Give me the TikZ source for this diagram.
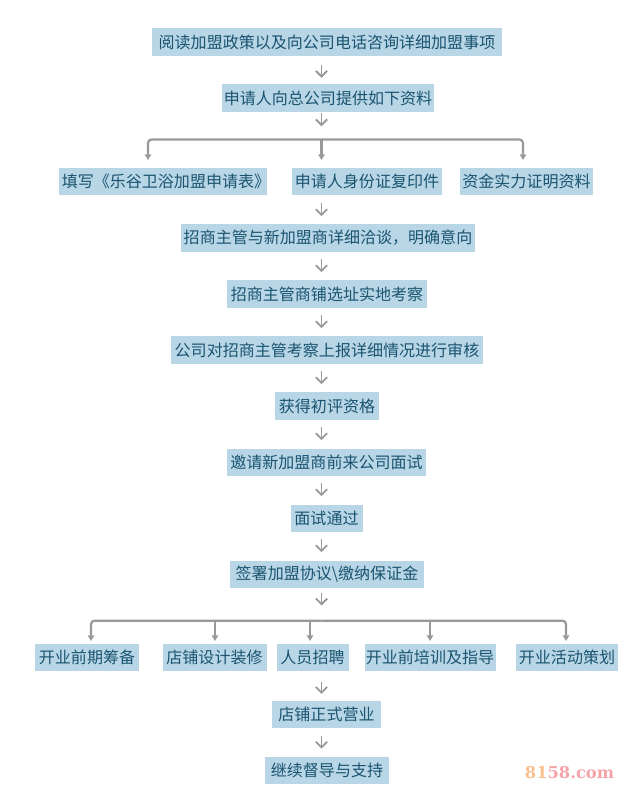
\documentclass[tikz,border=0pt]{standalone}
\usepackage{fontspec}
\usetikzlibrary{arrows.meta}
\newfontfamily\cjk{Noto Sans CJK SC}
\newfontfamily\markfont{DejaVu Serif}
\definecolor{boxblue}{HTML}{B8D6E6}
\definecolor{boxtext}{HTML}{1A5470}
\definecolor{linegray}{HTML}{999999}
\definecolor{markorange}{HTML}{F9C08E}
\definecolor{markpink}{HTML}{F6A3A8}

\begin{document}
\begin{tikzpicture}[x=0.025cm,y=-0.025cm,
  stepbox/.style={fill=boxblue,text=boxtext,inner sep=0pt,minimum height=0.675cm,
    minimum width=#1*0.025cm,font=\cjk\fontsize{11.4}{13}\selectfont},
  downarrow/.style={draw=linegray,line width=1.3pt,-{Straight Barb[length=4pt,width=8pt]},
    shorten <=0.19cm,shorten >=0.2cm},
  branch/.style={draw=linegray,line width=1.6pt,rounded corners=2.5pt,-{Triangle[length=4pt,width=4.5pt]}},
  stem/.style={draw=linegray,line width=1.6pt,-{Triangle[length=4pt,width=4.5pt]}}]
\useasboundingbox (0,0) rectangle (640,800);
\coordinate (spine) at (321.5,0);

%%%%%%%%% top part
\node[stepbox=350] (read) at (327,42) {阅读加盟政策以及向公司电话咨询详细加盟事项};
\node[stepbox=212] (apply) at (328,98) {申请人向总公司提供如下资料};

\node[stepbox=208] (form) at (163,181.5) {\makebox[0pt]{\kern4.2pt 填写《乐谷卫浴加盟申请表》}};
\node[stepbox=150] (idcopy) at (367,181.5) {申请人身份证复印件};
\node[stepbox=133] (funds) at (526.5,181.5) {资金实力证明资料};

\coordinate (barone) at (321.5,139.5);
\coordinate (formtip) at (148,160);
\coordinate (idtip) at (321.5,160);
\coordinate (fundstip) at (523,160);

\draw[downarrow,shorten <=0.24cm,shorten >=0.16cm] (read.south -| spine) to (apply.north -| spine);
\draw[downarrow,shorten <=0.04cm,shorten >=0.33cm] (apply.south -| spine) to (barone);

\draw[branch] (barone) -| (formtip);
\draw[branch] (barone) -| (fundstip);
\draw[stem] (barone) to (idtip);

%%%%%%%%% middle part
\node[stepbox=294] (talk) at (328,238) {招商主管与新加盟商详细洽谈，明确意向};
\node[stepbox=200] (survey) at (327,294) {招商主管商铺选址实地考察};
\node[stepbox=312] (audit) at (327,350) {公司对招商主管考察上报详细情况进行审核};
\node[stepbox=104] (qualify) at (327,406) {获得初评资格};
\node[stepbox=199] (invite) at (326.5,462) {邀请新加盟商前来公司面试};
\node[stepbox=72] (pass) at (326.5,518) {面试通过};
\node[stepbox=194] (sign) at (327,574) {签署加盟协议\textbackslash 缴纳保证金};

\draw[downarrow] (idcopy.south -| spine) to (talk.north -| spine);
\draw[downarrow] (talk.south -| spine) to (survey.north -| spine);
\draw[downarrow] (survey.south -| spine) to (audit.north -| spine);
\draw[downarrow] (audit.south -| spine) to (qualify.north -| spine);
\draw[downarrow] (qualify.south -| spine) to (invite.north -| spine);
\draw[downarrow] (invite.south -| spine) to (pass.north -| spine);
\draw[downarrow] (pass.south -| spine) to (sign.north -| spine);

%%%%%%%%% lower part
\node[stepbox=104] (prepare) at (87,657.5) {开业前期筹备};
\node[stepbox=104] (decorate) at (214.5,657.5) {店铺设计装修};
\node[stepbox=72] (staff) at (312.5,657.5) {人员招聘};
\node[stepbox=131] (training) at (430,657.5) {开业前培训及指导};
\node[stepbox=102] (events) at (567,657.5) {开业活动策划};

\coordinate (bartwo) at (321.5,620.7);
\coordinate (preparetip) at (91,641);
\coordinate (decoratetip) at (215,641);
\coordinate (stafftip) at (310,641);
\coordinate (trainingtip) at (430,641);
\coordinate (eventstip) at (566,641);

\draw[downarrow,shorten <=0.14cm,shorten >=0.38cm] (sign.south -| spine) to (bartwo);

\draw[branch] (bartwo) -| (preparetip);
\draw[branch] (bartwo) -| (eventstip);
\draw[stem] (decoratetip |- bartwo) to (decoratetip);
\draw[stem] (stafftip |- bartwo) to (stafftip);
\draw[stem] (trainingtip |- bartwo) to (trainingtip);

\node[stepbox=109] (opening) at (326.5,714.5) {店铺正式营业};
\node[stepbox=124] (support) at (327,770.5) {继续督导与支持};

\draw[downarrow,shorten <=0.26cm,shorten >=0.17cm] (staff.south -| spine) to (opening.north -| spine);
\draw[downarrow] (opening.south -| spine) to (support.north -| spine);

%%%%%%%%% site mark
\node[inner sep=0pt,font=\markfont\bfseries\fontsize{11.6}{13}\selectfont] (sitemark) at (569.5,773)
  {\textcolor{markorange}{81}\textcolor{markpink}{58.com}};

\end{tikzpicture}
\end{document}
